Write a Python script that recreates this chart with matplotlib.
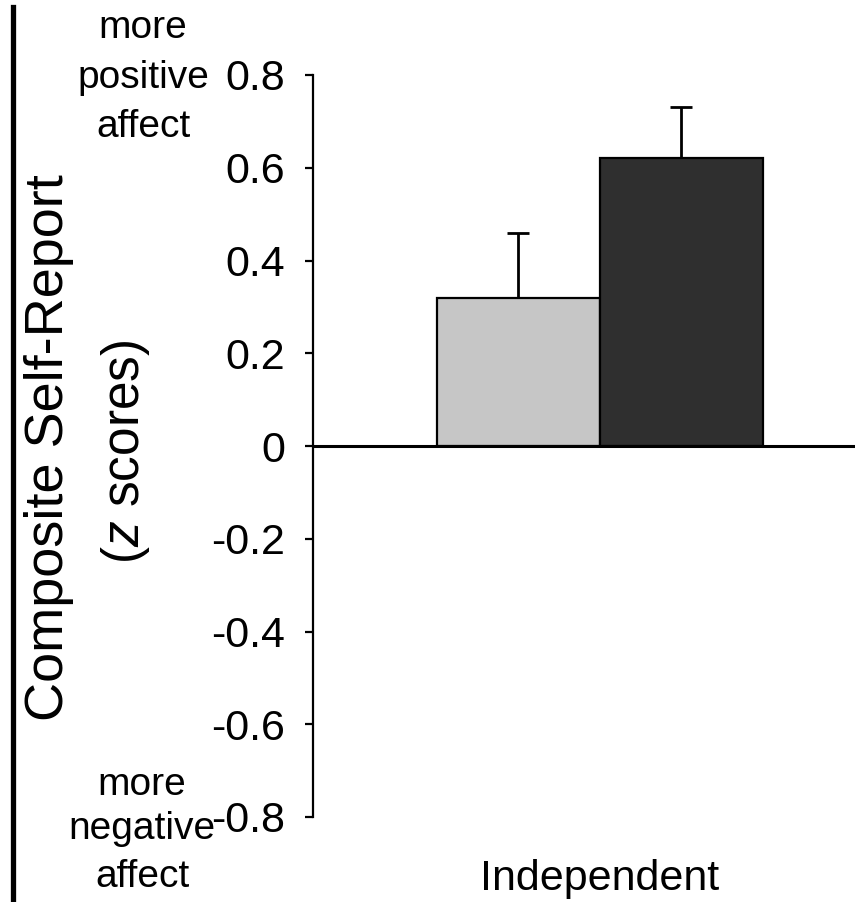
import numpy as np
import matplotlib
matplotlib.use("Agg")
import matplotlib.pyplot as plt
from matplotlib import font_manager
from matplotlib.lines import Line2D

# data
groups = ["light", "dark"]
means = [0.32, 0.62]
err_up = [0.14, 0.11]
bar_colors = ["#c6c6c6", "#2f2f2f"]
yticks = [0.8, 0.6, 0.4, 0.2, 0, -0.2, -0.4, -0.6, -0.8]
ytick_labels = ["0.8", "0.6", "0.4", "0.2", "0", "-0.2", "-0.4", "-0.6", "-0.8"]
xlabel = "Independent"
top_note = ["more", "positive", "affect"]
bottom_note = ["more", "negative", "affect"]

names = {f.name for f in font_manager.fontManager.ttflist}
if "Liberation Sans Narrow" in names:
    narrow = "Liberation Sans Narrow"
    tick_size = 35
else:
    narrow = "Liberation Sans"
    tick_size = 31

plt.rcParams['font.family'] = ['Liberation Sans', 'DejaVu Sans']
plt.rcParams['mathtext.fontset'] = 'custom'
plt.rcParams['mathtext.it'] = 'Liberation Sans:italic'
plt.rcParams['mathtext.rm'] = 'Liberation Sans'

fig = plt.figure(figsize=(8.55, 9.02), dpi=100)
ax = fig.add_axes([313/855, 1-817/902, 1-313/855, (817-75)/902])

x = np.arange(len(groups))
ax.bar(x, means, width=1.0, color=bar_colors, edgecolor="black", linewidth=1.6, zorder=2)
ax.errorbar(x, means, yerr=[np.zeros(len(means)), err_up], fmt="none",
            ecolor="black", elinewidth=2.0, capsize=8, capthick=2.0, zorder=1)
ax.axhline(0, color="black", linewidth=2.2, zorder=3)

ax.set_xlim(-1.26, 2.065)
ax.set_ylim(-0.8, 0.8)
ax.set_yticks(yticks)
ax.set_yticklabels(ytick_labels, fontfamily=narrow, fontsize=tick_size)
ax.set_xticks([0.5])
ax.set_xticklabels([xlabel], fontfamily=narrow, fontsize=tick_size)
ax.tick_params(axis="x", length=0, pad=30)
ax.tick_params(axis="y", length=6, width=1.6, direction="out", pad=14)
for s in ["top", "right", "bottom"]:
    ax.spines[s].set_visible(False)
ax.spines["left"].set_linewidth(1.6)
ax.spines["left"].set_bounds(-0.8, 0.8)

# y axis title, two lines
fig.text(49/855, 1-448/902, "Composite Self-Report", rotation=90,
         ha="center", va="center", fontsize=39)
fig.text(126/855, 1-452/902, "($z$ scores)", rotation=90,
         ha="center", va="center", fontsize=37)

# end notes on the axis
for word, yb in zip(top_note, [38, 88, 137]):
    fig.text(143/855, 1-yb/902, word, ha="center", va="baseline", fontsize=28)
for word, yb in zip(bottom_note, [795, 839, 887]):
    fig.text(142/855, 1-yb/902, word, ha="center", va="baseline", fontsize=28)

# black rule at the left edge
fig.add_artist(Line2D([12.5/855, 12.5/855], [0, 1-7/902], color="black",
                      linewidth=3.8, transform=fig.transFigure))

fig.savefig("out.png", dpi=100)
